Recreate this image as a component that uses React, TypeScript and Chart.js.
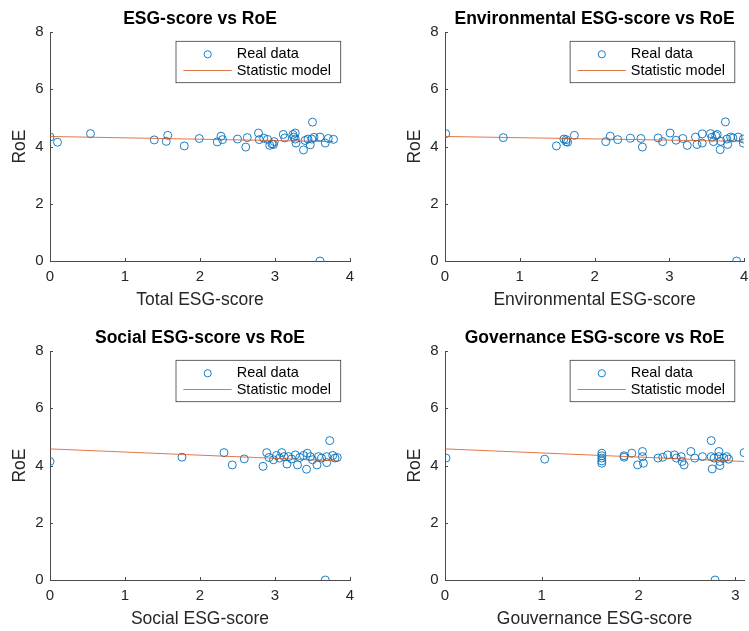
import React, { useEffect, useRef } from "react";
import { Chart, registerables } from "chart.js";

Chart.register(...registerables);

// ---------------- DATA ----------------
const totalScore = [0.0, 0.1, 0.54, 1.39, 1.55, 1.57, 1.79, 1.99, 2.23, 2.28, 2.3, 2.5, 2.61, 2.63, 2.78, 2.79, 2.85, 2.9, 2.93, 2.96, 2.98, 2.99, 3.11, 3.13, 3.24, 3.25, 3.27, 3.27, 3.28, 3.38, 3.4, 3.44, 3.47, 3.49, 3.5, 3.52, 3.6, 3.6, 3.67, 3.71, 3.78];
const totalRoe = [4.33, 4.15, 4.45, 4.23, 4.18, 4.39, 4.02, 4.28, 4.16, 4.36, 4.24, 4.26, 3.98, 4.31, 4.47, 4.24, 4.29, 4.25, 4.04, 4.09, 4.07, 4.17, 4.42, 4.3, 4.42, 4.33, 4.47, 4.26, 4.12, 3.88, 4.21, 4.26, 4.06, 4.26, 4.85, 4.32, 4.33, 0.0, 4.12, 4.28, 4.25];
const totalFitX = [0, 3.78];
const totalFitY = [4.35, 4.17];

const envScore = [0.01, 0.78, 1.49, 1.59, 1.62, 1.62, 1.64, 1.73, 2.15, 2.21, 2.31, 2.48, 2.62, 2.64, 2.85, 2.91, 3.01, 3.09, 3.18, 3.24, 3.35, 3.37, 3.44, 3.44, 3.55, 3.57, 3.59, 3.62, 3.64, 3.68, 3.69, 3.75, 3.77, 3.78, 3.82, 3.85, 3.9, 3.92, 3.99, 3.99];
const envRoe = [4.45, 4.31, 4.02, 4.26, 4.17, 4.24, 4.15, 4.39, 4.17, 4.36, 4.24, 4.29, 4.28, 3.98, 4.3, 4.17, 4.47, 4.22, 4.28, 4.04, 4.33, 4.07, 4.44, 4.12, 4.45, 4.32, 4.17, 4.38, 4.42, 3.89, 4.18, 4.86, 4.26, 4.07, 4.33, 4.3, 0.0, 4.33, 4.26, 4.12];
const envFitX = [0, 3.99];
const envFitY = [4.35, 4.18];

const socScore = [0.0, 1.76, 2.32, 2.43, 2.59, 2.84, 2.89, 2.92, 2.98, 3.02, 3.06, 3.09, 3.12, 3.16, 3.18, 3.22, 3.27, 3.3, 3.33, 3.38, 3.42, 3.43, 3.47, 3.5, 3.56, 3.58, 3.62, 3.67, 3.69, 3.69, 3.73, 3.77, 3.8, 3.83];
const socRoe = [4.14, 4.29, 4.45, 4.02, 4.23, 3.97, 4.45, 4.28, 4.2, 4.35, 4.26, 4.45, 4.31, 4.05, 4.31, 4.23, 4.37, 4.02, 4.28, 4.35, 3.87, 4.43, 4.31, 4.2, 4.02, 4.31, 4.26, 0.0, 4.1, 4.31, 4.87, 4.35, 4.26, 4.28];
const socFitX = [0, 3.83];
const socFitY = [4.58, 4.16];

const govScore = [0.01, 1.03, 1.62, 1.62, 1.62, 1.62, 1.62, 1.85, 1.85, 1.93, 1.99, 2.04, 2.04, 2.05, 2.2, 2.25, 2.3, 2.37, 2.39, 2.44, 2.45, 2.47, 2.54, 2.58, 2.66, 2.75, 2.75, 2.76, 2.78, 2.79, 2.83, 2.83, 2.84, 2.84, 2.88, 2.91, 2.93, 3.09];
const govRoe = [4.26, 4.22, 4.43, 4.34, 4.26, 4.16, 4.08, 4.34, 4.29, 4.43, 4.02, 4.49, 4.31, 4.08, 4.26, 4.29, 4.37, 4.37, 4.26, 4.31, 4.14, 4.02, 4.49, 4.26, 4.31, 4.87, 4.31, 3.88, 4.26, 0.0, 4.49, 4.31, 4.14, 4.0, 4.26, 4.31, 4.22, 4.45];
const govFitX = [0, 3.09];
const govFitY = [4.58, 4.14];

const yMin = 0;
const yMax = 8;
const yStep = 2;
const xStep = 1;
const seriesLabels = ["Real data", "Statistic model"];
const yAxisLabel = "RoE";

// ---------------- STYLE ----------------
const FONT = '"Liberation Sans", Arial, Helvetica, sans-serif';
const BLUE = "#0072BD";
const ORANGE = "#D95319";
const AXIS = "#4a4a4a";
const TEXT = "#262626";

type Area = { left: number; right: number; top: number; bottom: number };

const matlabPlugin = {
  id: "matlabDecor",
  afterDraw(chart: any) {
    const opts = chart.options.plugins.matlabDecor;
    if (!opts) return;
    const { ctx, chartArea } = chart;
    const { left, right, top, bottom } = chartArea;
    const xs = chart.scales.x;
    const ys = chart.scales.y;
    ctx.save();
    // inward tick marks
    ctx.strokeStyle = AXIS;
    ctx.lineWidth = 1;
    ctx.beginPath();
    xs.ticks.forEach((t: any) => {
      const p = Math.round(xs.getPixelForValue(t.value)) + 0.5;
      ctx.moveTo(p, bottom);
      ctx.lineTo(p, bottom - 3);
    });
    ys.ticks.forEach((t: any) => {
      const p = Math.round(ys.getPixelForValue(t.value)) + 0.5;
      ctx.moveTo(left, p);
      ctx.lineTo(left + 3, p);
    });
    ctx.stroke();

    const cx = (left + right) / 2;
    // title
    ctx.fillStyle = "#000";
    ctx.font = `bold 17.5px ${FONT}`;
    ctx.textAlign = "center";
    ctx.textBaseline = "alphabetic";
    ctx.fillText(opts.title, cx, top - 8);
    // x label
    ctx.fillStyle = TEXT;
    ctx.font = `17.5px ${FONT}`;
    ctx.fillText(opts.xLabel, cx, bottom + 44);
    // y label
    ctx.save();
    ctx.translate(left - 25, (top + bottom) / 2);
    ctx.rotate(-Math.PI / 2);
    ctx.fillText(opts.yLabel, 0, 0);
    ctx.restore();

    // legend
    const ds = chart.data.datasets;
    const bw = 164.7;
    const bh = 41.4;
    const bx = right - 9.3 - bw;
    const by = top + 9.3;
    ctx.fillStyle = "#fff";
    ctx.fillRect(bx, by, bw, bh);
    ctx.strokeStyle = "#3a3a3a";
    ctx.lineWidth = 0.8;
    ctx.strokeRect(bx, by, bw, bh);
    const r1 = by + 13;
    const r2 = by + 29.2;
    // marker
    ctx.strokeStyle = ds[1].pointBorderColor;
    ctx.lineWidth = 0.9;
    ctx.beginPath();
    ctx.arc(bx + 31.7, r1, 3.6, 0, Math.PI * 2);
    ctx.stroke();
    // line
    ctx.strokeStyle = ds[0].borderColor;
    ctx.lineWidth = 0.8;
    ctx.beginPath();
    ctx.moveTo(bx + 7.3, r2);
    ctx.lineTo(bx + 55.7, r2);
    ctx.stroke();
    ctx.fillStyle = "#000";
    ctx.font = `14.5px ${FONT}`;
    ctx.textAlign = "left";
    ctx.textBaseline = "middle";
    ctx.fillText(ds[1].label, bx + 60.7, r1);
    ctx.fillText(ds[0].label, bx + 60.7, r2);
    ctx.restore();
  },
};

type PanelProps = {
  left: number;
  top: number;
  width: number;
  height: number;
  area: Area;
  xs: number[];
  ys: number[];
  fitX: number[];
  fitY: number[];
  xMax: number;
  title: string;
  xLabel: string;
};

function Panel(p: PanelProps) {
  const ref = useRef<HTMLCanvasElement | null>(null);
  useEffect(() => {
    if (!ref.current) return;
    const zeroPad = (s: any) => {
      s.paddingLeft = 0;
      s.paddingRight = 0;
      s.paddingTop = 0;
      s.paddingBottom = 0;
    };
    const chart = new Chart(ref.current, {
      type: "scatter",
      data: {
        datasets: [
          {
            label: seriesLabels[1],
            data: p.fitX.map((x, i) => ({ x, y: p.fitY[i] })),
            showLine: true,
            borderColor: ORANGE,
            borderWidth: 0.8,
            pointRadius: 0,
            order: 0,
          } as any,
          {
            label: seriesLabels[0],
            data: p.xs.map((x, i) => ({ x, y: p.ys[i] })),
            showLine: false,
            pointStyle: "circle",
            pointRadius: 4,
            pointBorderWidth: 0.9,
            pointBorderColor: BLUE,
            pointBackgroundColor: "rgba(0,0,0,0)",
            order: 1,
          } as any,
        ],
      },
      options: {
        animation: false,
        responsive: false,
        devicePixelRatio: 1,
        layout: {
          padding: { top: p.area.top, right: p.width - p.area.right, left: 0, bottom: 0 },
        },
        scales: {
          x: {
            type: "linear",
            min: 0,
            max: p.xMax,
            grid: { display: false, drawTicks: false },
            border: { display: true, color: AXIS, width: 1 },
            ticks: {
              stepSize: xStep,
              includeBounds: false,
              padding: 7,
              color: TEXT,
              font: { family: FONT, size: 15 },
              maxRotation: 0,
              autoSkip: false,
              callback: (v: any) => String(v),
            },
            afterFit: (s: any) => {
              s.height = p.height - p.area.bottom;
              zeroPad(s);
            },
          },
          y: {
            type: "linear",
            min: yMin,
            max: yMax,
            grid: { display: false, drawTicks: false },
            border: { display: true, color: AXIS, width: 1 },
            ticks: {
              stepSize: yStep,
              padding: 6.5,
              color: TEXT,
              font: { family: FONT, size: 15 },
              callback: (v: any) => String(v),
            },
            afterFit: (s: any) => {
              s.width = p.area.left;
              zeroPad(s);
            },
          },
        },
        plugins: {
          legend: { display: false },
          title: { display: false },
          tooltip: { enabled: false },
          matlabDecor: { title: p.title, xLabel: p.xLabel, yLabel: yAxisLabel },
        } as any,
      },
      plugins: [matlabPlugin],
    });
    return () => chart.destroy();
  }, []);
  return (
    <canvas
      ref={ref}
      width={p.width}
      height={p.height}
      style={{ position: "absolute", left: p.left, top: p.top, width: p.width, height: p.height }}
    />
  );
}

export default function App() {
  return (
    <div
      style={{
        position: "absolute",
        left: 0,
        top: 0,
        width: 749,
        height: 631,
        overflow: "hidden",
        background: "#fff",
      }}
    >
      <Panel
        left={0}
        top={0}
        width={375}
        height={315}
        area={{ left: 50, right: 350, top: 32, bottom: 261 }}
        xs={totalScore}
        ys={totalRoe}
        fitX={totalFitX}
        fitY={totalFitY}
        xMax={4}
        title="ESG-score vs RoE"
        xLabel="Total ESG-score"
      />
      <Panel
        left={375}
        top={0}
        width={374}
        height={315}
        area={{ left: 70, right: 370, top: 32, bottom: 261 }}
        xs={envScore}
        ys={envRoe}
        fitX={envFitX}
        fitY={envFitY}
        xMax={4}
        title="Environmental ESG-score vs RoE"
        xLabel="Environmental ESG-score"
      />
      <Panel
        left={0}
        top={316}
        width={375}
        height={315}
        area={{ left: 50, right: 350, top: 35, bottom: 264 }}
        xs={socScore}
        ys={socRoe}
        fitX={socFitX}
        fitY={socFitY}
        xMax={4}
        title="Social ESG-score vs RoE"
        xLabel="Social ESG-score"
      />
      <Panel
        left={375}
        top={316}
        width={374}
        height={315}
        area={{ left: 70, right: 370, top: 35, bottom: 264 }}
        xs={govScore}
        ys={govRoe}
        fitX={govFitX}
        fitY={govFitY}
        xMax={3.09}
        title="Governance ESG-score vs RoE"
        xLabel="Gouvernance ESG-score"
      />
    </div>
  );
}
